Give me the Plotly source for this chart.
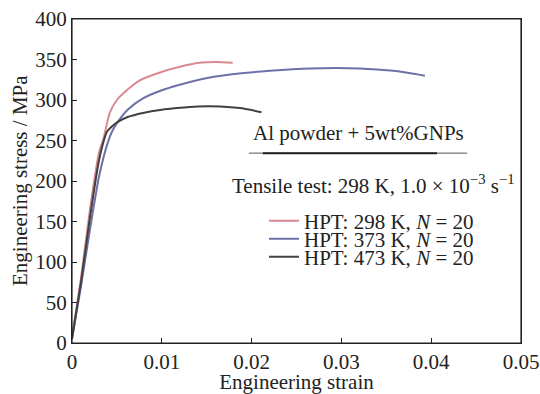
import plotly.graph_objects as go

# Data
strain_298 = [0.0, 0.0010, 0.0020, 0.0030, 0.0035, 0.0042, 0.0050, 0.0061, 0.0075, 0.0098, 0.0120, 0.0142, 0.0160, 0.0179]
stress_298 = [8, 80, 165, 235, 252, 284, 300, 312, 324, 334, 341, 346, 347, 346]

strain_373 = [0.0, 0.0010, 0.0020, 0.0030, 0.0040, 0.0045, 0.0051, 0.0062, 0.0079, 0.0100, 0.0117, 0.0145, 0.0172, 0.0220, 0.0265, 0.0320, 0.0358, 0.0393]
stress_373 = [5, 70, 140, 205, 248, 262, 273, 288, 302, 312, 318, 326, 331, 336, 339, 339, 336, 330]

strain_473 = [0.0, 0.0010, 0.0020, 0.0030, 0.0036, 0.0039, 0.0045, 0.0051, 0.0062, 0.0079, 0.0100, 0.0117, 0.0140, 0.0165, 0.0187, 0.0211]
stress_473 = [5, 75, 155, 225, 252, 261, 268, 273, 279, 284, 288, 290, 292, 292, 290, 285]

series_names = ["HPT: 298 K, <i>N</i> = 20", "HPT: 373 K, <i>N</i> = 20", "HPT: 473 K, <i>N</i> = 20"]
series_colors = ["#d98a90", "#6c71a8", "#404040"]
legend_ids = ["legend", "legend2", "legend3"]
legend_rows_y = [0.3765, 0.321, 0.265]

x_ticks = [0, 0.01, 0.02, 0.03, 0.04, 0.05]
x_tick_labels = ["0", "0.01", "0.02", "0.03", "0.04", "0.05"]
y_ticks = [0, 50, 100, 150, 200, 250, 300, 350, 400]

FONT = "Liberation Serif, Times New Roman, serif"
TXT = "#222222"
FS = 21

fig = go.Figure()
for xs, ys, name, col, lg in zip([strain_298, strain_373, strain_473],
                                 [stress_298, stress_373, stress_473],
                                 series_names, series_colors, legend_ids):
    fig.add_trace(go.Scatter(x=xs, y=ys, mode="lines", name=name, legend=lg,
                             line=dict(color=col, width=2, shape="spline", smoothing=0.6)))

legend_common = dict(x=0.4276, xanchor="left", yanchor="middle", bgcolor="rgba(0,0,0,0)",
                     font=dict(size=FS, family=FONT, color=TXT), itemwidth=30)

fig.update_layout(
    width=540, height=394,
    margin=dict(l=72, r=19, t=19, b=51),
    paper_bgcolor="white", plot_bgcolor="white",
    font=dict(family=FONT, size=FS, color=TXT),
    showlegend=True,
    legend=dict(y=legend_rows_y[0], **legend_common),
    legend2=dict(y=legend_rows_y[1], **legend_common),
    legend3=dict(y=legend_rows_y[2], **legend_common),
    xaxis=dict(range=[0, 0.05], tickvals=x_ticks, ticktext=x_tick_labels,
               ticks="inside", ticklen=5, tickcolor=TXT, showline=True, linecolor=TXT,
               linewidth=1.2, mirror=True, showgrid=False, zeroline=False,
               tickfont=dict(size=FS), automargin=False, ticklabeloverflow="allow",
               title=dict(text="Engineering strain", standoff=0, font=dict(size=FS))),
    yaxis=dict(range=[0, 400], tickvals=y_ticks, ticks="inside", ticklen=5, tickcolor=TXT,
               showline=True, linecolor=TXT, linewidth=1.2, mirror=True, showgrid=False,
               zeroline=False, tickfont=dict(size=FS), automargin=False,
               ticklabeloverflow="allow"),
)

# plot frame
fig.add_shape(type="rect", xref="paper", yref="paper", x0=0, x1=1, y0=0, y1=1,
              line=dict(color=TXT, width=1.2), fillcolor="rgba(0,0,0,0)", layer="above")

# y-axis title placed close to tick labels, as in the reference
fig.add_annotation(x=-52 / 449, y=0.5, xref="paper", yref="paper", text="Engineering stress / MPa",
                   textangle=-90, showarrow=False, xanchor="center", yanchor="middle",
                   font=dict(size=FS, family=FONT, color=TXT))

fig.add_annotation(x=0.638, y=0.648, xref="paper", yref="paper", text="Al powder + 5wt%GNPs",
                   showarrow=False, xanchor="center", yanchor="middle",
                   font=dict(size=FS, family=FONT, color=TXT))
fig.add_shape(type="line", xref="paper", yref="paper", x0=0.394, x1=0.880, y0=0.586, y1=0.586,
              line=dict(color="#555555", width=1))
fig.add_shape(type="line", xref="paper", yref="paper", x0=0.425, x1=0.813, y0=0.586, y1=0.586,
              line=dict(color="#222222", width=2))
fig.add_annotation(x=0.6726, y=0.4877, xref="paper", yref="paper",
                   text="Tensile test: 298 K, 1.0 × 10<sup>−3</sup> s<sup>−1</sup>",
                   showarrow=False, xanchor="center", yanchor="middle",
                   font=dict(size=FS, family=FONT, color=TXT))

# remove the browser's default body margin so the 540x394 figure fills the window exactly
fig.write_html("out.html",
               config={"displayModeBar": False},
               post_script="document.body.style.margin='0';document.documentElement.style.overflow='hidden';")
